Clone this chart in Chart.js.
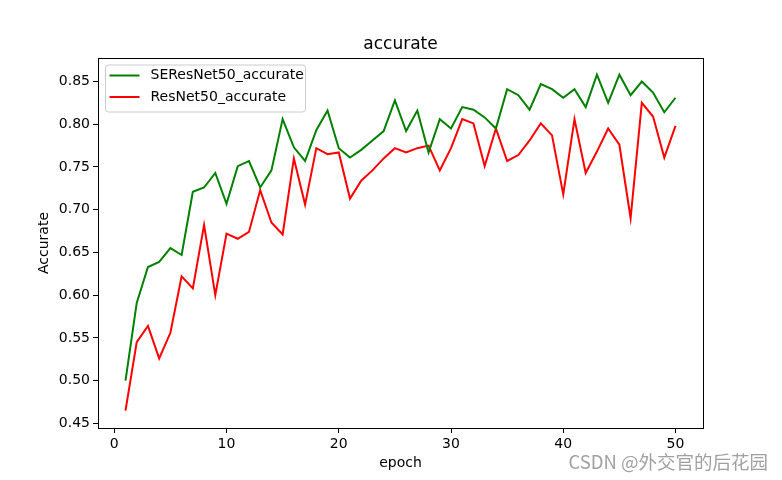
<!DOCTYPE html>
<html>
<head>
<meta charset="utf-8">
<script src="https://cdn.jsdelivr.net/npm/chart.js@4/dist/chart.umd.min.js"></script>
<style>
  body { margin: 0; background: #fff; }
  #wrap { width: 782px; height: 480px; }
</style>
</head>
<body>
<div id="wrap"><canvas id="grafico" width="782" height="480"></canvas></div>
<script>
var epocas = [1, 2, 3, 4, 5, 6, 7, 8, 9, 10, 11, 12, 13, 14, 15, 16, 17, 18, 19, 20,
  21, 22, 23, 24, 25, 26, 27, 28, 29, 30, 31, 32, 33, 34, 35, 36, 37, 38, 39, 40,
  41, 42, 43, 44, 45, 46, 47, 48, 49, 50];

var seResNet = [0.500, 0.591, 0.633, 0.639, 0.655, 0.647, 0.721, 0.726, 0.743, 0.707,
  0.751, 0.757, 0.726, 0.746, 0.806, 0.773, 0.757, 0.793, 0.816, 0.772,
  0.761, 0.770, 0.781, 0.792, 0.828, 0.792, 0.816, 0.767, 0.806, 0.795,
  0.820, 0.817, 0.808, 0.795, 0.841, 0.834, 0.817, 0.847, 0.841, 0.831,
  0.841, 0.820, 0.858, 0.825, 0.858, 0.834, 0.850, 0.837, 0.814, 0.831];

var resNet = [0.465, 0.545, 0.564, 0.526, 0.556, 0.622, 0.608, 0.682, 0.600, 0.672,
  0.666, 0.674, 0.723, 0.685, 0.671, 0.760, 0.706, 0.772, 0.765, 0.767,
  0.713, 0.734, 0.746, 0.760, 0.772, 0.767, 0.772, 0.775, 0.746, 0.772,
  0.806, 0.801, 0.751, 0.795, 0.757, 0.764, 0.781, 0.801, 0.787, 0.718,
  0.806, 0.743, 0.768, 0.795, 0.776, 0.690, 0.825, 0.809, 0.761, 0.798];

var nomesSeries = ["SEResNet50_accurate", "ResNet50_accurate"];
var ticksX = [0, 10, 20, 30, 40, 50];
var ticksY = [0.45, 0.50, 0.55, 0.60, 0.65, 0.70, 0.75, 0.80, 0.85];

Chart.defaults.font.family = "'DejaVu Sans', sans-serif";
Chart.defaults.color = "#000";

function pontos(valores) {
  return epocas.map(function (e, i) { return { x: e, y: valores[i] }; });
}

// moldura do grafico e legenda desenhadas a mao (estilo matplotlib)
var molduraPlugin = {
  id: "moldura",
  afterDatasetsDraw: function (chart) {
    var ctx = chart.ctx;
    var a = chart.chartArea;
    ctx.save();
    ctx.strokeStyle = "#000";
    ctx.lineWidth = 1;
    ctx.strokeRect(Math.round(a.left) + 0.5, Math.round(a.top) + 0.5,
      Math.round(a.right - a.left), Math.round(a.bottom - a.top));

    // legenda
    var x0 = a.left + 7.5, y0 = a.top + 7, w = 200, h = 47, r = 3;
    ctx.beginPath();
    ctx.moveTo(x0 + r, y0);
    ctx.arcTo(x0 + w, y0, x0 + w, y0 + h, r);
    ctx.arcTo(x0 + w, y0 + h, x0, y0 + h, r);
    ctx.arcTo(x0, y0 + h, x0, y0, r);
    ctx.arcTo(x0, y0, x0 + w, y0, r);
    ctx.closePath();
    ctx.fillStyle = "rgba(255,255,255,0.8)";
    ctx.fill();
    ctx.strokeStyle = "#cccccc";
    ctx.stroke();
    ctx.font = "14px 'DejaVu Sans'";
    ctx.textBaseline = "middle";
    chart.data.datasets.forEach(function (ds, i) {
      var yy = y0 + 10.5 + i * 21.5;
      ctx.beginPath();
      ctx.strokeStyle = ds.borderColor;
      ctx.lineWidth = 2;
      ctx.moveTo(x0 + 4, yy);
      ctx.lineTo(x0 + 34, yy);
      ctx.stroke();
      ctx.fillStyle = "#000";
      ctx.fillText(ds.label, x0 + 45, yy);
    });
    ctx.restore();
  },
  afterDraw: function (chart) {
    var ctx = chart.ctx;
    ctx.save();
    ctx.font = "18.5px 'Noto Sans CJK SC'";
    ctx.fillStyle = "rgba(150,150,150,0.9)";
    ctx.textAlign = "right";
    ctx.textBaseline = "middle";
    ctx.fillText("CSDN @外交官的后花园", 768, 462);
    ctx.restore();
  }
};

var config = {
  type: "line",
  data: {
    datasets: [
      {
        label: nomesSeries[0],
        data: pontos(seResNet),
        borderColor: "#008000",
        backgroundColor: "#008000",
        borderWidth: 2,
        pointRadius: 0,
        tension: 0,
      },
      {
        label: nomesSeries[1],
        data: pontos(resNet),
        borderColor: "#ff0000",
        backgroundColor: "#ff0000",
        borderWidth: 2,
        pointRadius: 0,
        tension: 0,
      },
    ],
  },
  options: {
    responsive: false,
    animation: false,
    layout: { padding: { left: 30, right: 79, top: 0, bottom: 8 } },
    plugins: {
      legend: { display: false },
      tooltip: { enabled: false },
      title: {
        display: true,
        text: "accurate",
        fullSize: false,
        font: { size: 17, weight: "normal" },
        padding: { top: 34, bottom: 3.6 },
      },
    },
    scales: {
      x: {
        type: "linear",
        min: -1.45,
        max: 52.45,
        afterBuildTicks: function (axis) {
          axis.ticks = ticksX.map(function (v) { return { value: v }; });
        },
        afterFit: function (axis) { axis.height = 44; },
        ticks: { font: { size: 14 }, padding: 3, maxRotation: 0, color: "#000" },
        grid: { drawOnChartArea: false, tickLength: 5, tickColor: "#000" },
        border: { display: false },
        title: { display: true, text: "epoch", font: { size: 14 }, padding: { top: 0, bottom: 0 } },
      },
      y: {
        min: 0.4446,
        max: 0.8775,
        afterBuildTicks: function (axis) {
          axis.ticks = ticksY.map(function (v) { return { value: v }; });
        },
        afterFit: function (axis) { axis.width = 68; },
        ticks: {
          font: { size: 14 },
          padding: 3,
          color: "#000",
          callback: function (v) { return Number(v).toFixed(2); },
        },
        grid: { drawOnChartArea: false, tickLength: 5, tickColor: "#000" },
        border: { display: false },
        title: { display: true, text: "Accurate", font: { size: 14 }, padding: { top: 6, bottom: 0 } },
      },
    },
  },
  plugins: [molduraPlugin],
};

new Chart(document.getElementById("grafico"), config);
</script>
</body>
</html>
